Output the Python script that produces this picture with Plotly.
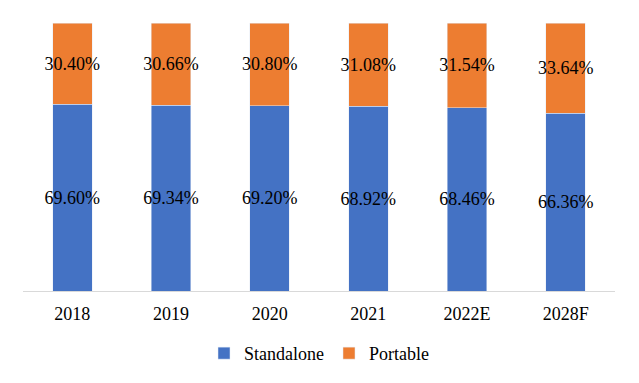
import plotly.graph_objects as go

years = ["2018", "2019", "2020", "2021", "2022E", "2028F"]
standalone = [69.60, 69.34, 69.20, 68.92, 68.46, 66.36]
portable = [30.40, 30.66, 30.80, 31.08, 31.54, 33.64]

font = "Liberation Serif"

fig = go.Figure()
fig.add_trace(go.Bar(
    x=years, y=standalone, name="Standalone", marker_color="#4472C4",
    text=[f"{v:.2f}%" for v in standalone], textposition="inside",
    insidetextanchor="middle", textangle=0, constraintext="none",
    textfont=dict(family=font, size=18, color="black"), width=0.4,
))
fig.add_trace(go.Bar(
    x=years, y=portable, name="Portable", marker_color="#ED7D31",
    text=[f"{v:.2f}%" for v in portable], textposition="inside",
    insidetextanchor="middle", textangle=0, constraintext="none",
    textfont=dict(family=font, size=18, color="black"), width=0.4,
))
fig.update_layout(
    barmode="stack",
    width=631, height=383,
    margin=dict(l=15, r=24, t=15, b=100),
    plot_bgcolor="white", paper_bgcolor="white",
    font=dict(family=font, size=18, color="black"),
    showlegend=True,
    legend=dict(orientation="h", x=0.5, xanchor="center", y=-0.164, yanchor="top",
                font=dict(family=font, size=18, color="black"), itemwidth=30,
                traceorder="normal"),
    xaxis=dict(showline=True, linecolor="#D9D9D9", linewidth=1, ticks="",
               showgrid=False, tickfont=dict(family=font, size=18),
               ticklabelstandoff=6),
    yaxis=dict(range=[0, 100], visible=False, showgrid=False),
)
fig.write_html("out.html")
